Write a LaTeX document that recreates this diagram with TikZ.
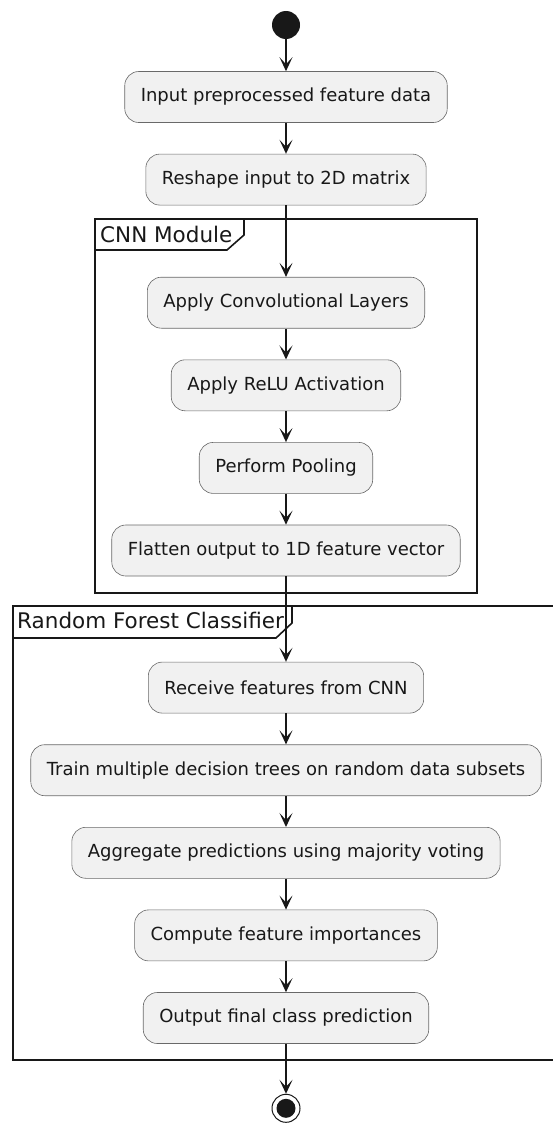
\documentclass[tikz,border=0pt]{standalone}
\usepackage{fontspec}
\setmainfont{DejaVu Sans}
\usepackage{tikz}
\usetikzlibrary{arrows.meta, positioning}

\definecolor{ink}{HTML}{181818}
\definecolor{boxfill}{HTML}{F1F1F1}

\begin{document}
\begin{tikzpicture}[
			x=1pt, y=-1pt,
			actbox/.style={
				draw=ink!65,
				line width=0.6pt,
				fill=boxfill,
				rounded corners=14pt,
				align=center,
				minimum height=51pt,
				inner xsep=16pt,
				text=ink,
				font=\fontsize{18pt}{21pt}\selectfont
			},
			flow/.style={-{Stealth[length=14pt, width=13pt, inset=7pt]}, ink, line width=1.4pt},
			grp/.style={draw=ink, line width=1.6pt},
			grplabel/.style={anchor=base west, inner sep=0pt, text=ink, font=\fontsize{21.5pt}{25pt}\selectfont},
			startdot/.style={circle, fill=ink, minimum size=28pt, inner sep=0pt},
			enddot/.style={circle, draw=ink, line width=1pt, fill=white, minimum size=28pt, inner sep=0pt,
				path picture={\fill[ink] (path picture bounding box.center) circle (9.5pt);}}
			]
			\useasboundingbox (0,0) rectangle (553,1124);
			
			% Frames
			\draw[grp] (95,219) rectangle (477,593);
			\draw[grp] (95,250) -- (227,250) -- (244,235) -- (244,219);
			\node[grplabel] (cnnlbl) at (100,242) {CNN Module};
			
			\draw[grp] (553,606) -- (13,606) -- (13,1060) -- (553,1060);
			\draw[grp] (13,638) -- (276,638) -- (292,623) -- (292,606);
			\node[grplabel] (rflbl) at (17,628) {Random Forest Classifier};
			
			% Start
			\node[startdot] (start) at (286,25) {};
			
			% Top steps
			\node[actbox] (input) at (286,97) {Input preprocessed feature data};
			\node[actbox, below=31pt of input] (reshape) {Reshape input to 2D matrix};
			
			% CNN module
			\node[actbox, below=71.5pt of reshape] (conv) {Apply Convolutional Layers};
			\node[actbox, below=31pt of conv] (relu) {Apply ReLU Activation};
			\node[actbox, below=31pt of relu] (pool) {Perform Pooling};
			\node[actbox, below=31pt of pool] (flat) {Flatten output to 1D feature vector};
			
			% Random forest
			\node[actbox, below=85.5pt of flat] (recv) {Receive features from CNN};
			\node[actbox, below=31pt of recv] (train) {Train multiple decision trees on random data subsets};
			\node[actbox, below=31pt of train] (aggr) {Aggregate predictions using majority voting};
			\node[actbox, below=31pt of aggr] (imp) {Compute feature importances};
			\node[actbox, below=31pt of imp] (outp) {Output final class prediction};
			
			% End
			\node[enddot, below=50pt of outp] (stop) {};
			
			% Arrows
			\draw[flow] (start) -- (input);
			\draw[flow] (input) -- (reshape);
			\draw[flow] (reshape) -- (conv);
			\draw[flow] (conv) -- (relu);
			\draw[flow] (relu) -- (pool);
			\draw[flow] (pool) -- (flat);
			\draw[flow] (flat) -- (recv);
			\draw[flow] (recv) -- (train);
			\draw[flow] (train) -- (aggr);
			\draw[flow] (aggr) -- (imp);
			\draw[flow] (imp) -- (outp);
			\draw[flow] (outp) -- (stop);
			
		\end{tikzpicture}
\end{document}
